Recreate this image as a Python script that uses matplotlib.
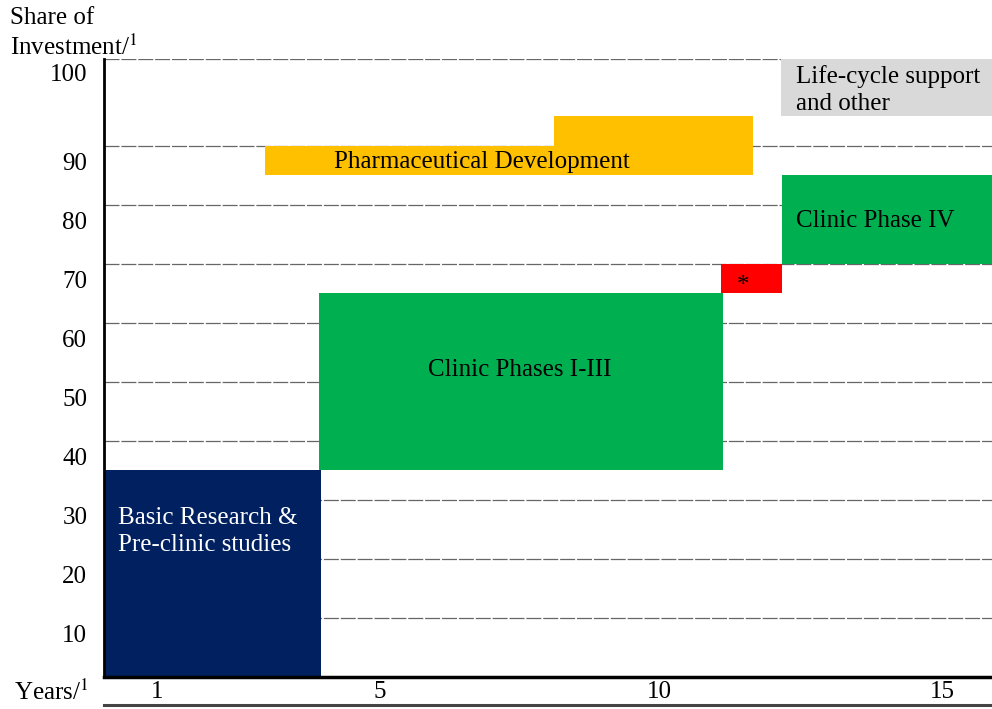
import matplotlib.pyplot as plt
from matplotlib.lines import Line2D

plt.rcParams['font.family'] = ['Liberation Serif', 'DejaVu Serif']
plt.rcParams['mathtext.fontset'] = 'stix'

# phase blocks: start / end year, share from / to
phase_names = ["Basic Research", "Clinic Phases I-III", "Pharma Dev low", "Pharma Dev high",
               "Approval", "Clinic Phase IV", "Life-cycle"]
phase_start = [0.0, 3.87, 2.9, 8.1, 11.12, 12.22, 12.2]
phase_end = [3.91, 11.15, 11.7, 11.7, 12.22, 16.0, 16.0]
share_low = [0, 35, 85, 90, 65, 70, 95]
share_high = [35, 65, 90, 95, 70, 85, 104.7]
phase_colors = ["#002060", "#00b050", "#ffc000", "#ffc000", "#ff0000", "#00b050", "#d9d9d9"]

grid_values = [10, 20, 30, 40, 50, 60, 70, 80, 90]
ytick_pos = [7.3, 17.3, 27.3, 37.3, 47.3, 57.3, 67.3, 77.3, 87.3, 102.4]
ytick_labels = ["10", "20", "30", "40", "50", "60", "70", "80", "90", "100"]
xtick_pos = [0.955, 4.97, 10.0, 15.1]
xtick_labels = ["1", "5", "10", "15"]

fig = plt.figure(figsize=(9.92, 7.09), dpi=100)
ax = fig.add_axes([0.1048, 0.0451, 0.8952, 0.8717])
ax.set_xlim(0, 16)
ax.set_ylim(0, 104.7)

for g in grid_values + [104.7]:
    ax.axhline(g, color="#666666", lw=0.9, ls=(0, (12, 1.5)), zorder=1)

for s, e, lo, hi, c in zip(phase_start, phase_end, share_low, share_high, phase_colors):
    ax.bar(s, hi - lo, width=e - s, bottom=lo, align="edge", color=c, lw=0, zorder=2)

fs = 18
ax.text(0.25, 24.7, "Basic Research &\nPre-clinic studies", color="white", fontsize=fs,
        va="center", ha="left", linespacing=1.3, zorder=3)
ax.text(7.5, 52.0, "Clinic Phases I-III", fontsize=fs, ha="center", va="center", zorder=3)
ax.text(6.8, 87.3, "Pharmaceutical Development", fontsize=fs, ha="center", va="center", zorder=3)
ax.text(11.51, 65.3, "*", fontsize=fs, ha="center", va="baseline", zorder=3)
ax.text(13.89, 77.3, "Clinic Phase IV", fontsize=fs, ha="center", va="center", zorder=3)
ax.text(12.47, 99.5, "Life-cycle support\nand other", fontsize=fs, ha="left", va="center",
        linespacing=1.3, zorder=3)

ax.set_yticks(ytick_pos)
ax.set_yticklabels(ytick_labels, fontsize=fs)
ax.set_xticks(xtick_pos)
ax.set_xticklabels(xtick_labels, fontsize=fs)
ax.tick_params(length=0, pad=12)
ax.tick_params(axis="x", pad=3)

for side in ["top", "right"]:
    ax.spines[side].set_visible(False)
ax.spines["left"].set_linewidth(2)
ax.spines["bottom"].set_linewidth(2.5)

fig.text(0.010, 0.990, "Share of\nInvestment/$^{1}$", fontsize=fs, va="top", ha="left",
         linespacing=1.25)
fig.text(0.014, 0.024, "Years/$^{1}$", fontsize=fs, va="center", ha="left")
fig.add_artist(Line2D([0.1048, 1.0], [0.006, 0.006], color="#444444", lw=2.2))

fig.savefig("out.png", dpi=100)
